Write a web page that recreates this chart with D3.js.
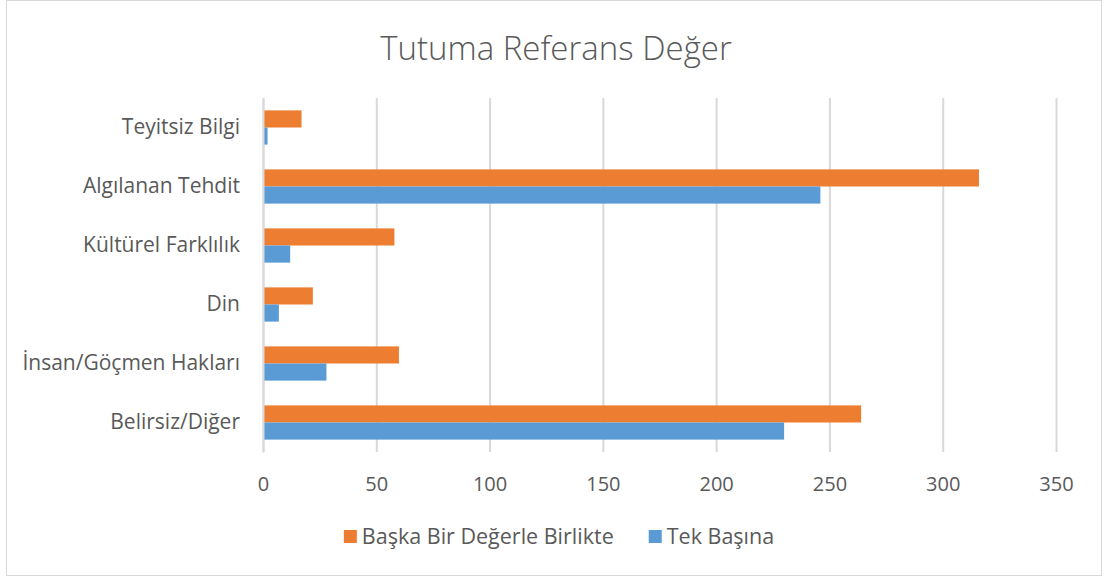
<!DOCTYPE html>
<html>
<head>
<meta charset="utf-8">
<script src="https://cdn.jsdelivr.net/npm/d3@7"></script>
<style>
  body { margin: 0; background: #fff; }
  text { font-family: "Open Sans", sans-serif; fill: #595959; }
</style>
</head>
<body>
<div id="container"></div>
<script>
  const data = [
    { name: 'Teyitsiz Bilgi', birlikte: 17, tek: 2 },
    { name: 'Algılanan Tehdit', birlikte: 316, tek: 246 },
    { name: 'Kültürel Farklılık', birlikte: 58, tek: 12 },
    { name: 'Din', birlikte: 22, tek: 7 },
    { name: 'İnsan/Göçmen Hakları', birlikte: 60, tek: 28 },
    { name: 'Belirsiz/Diğer', birlikte: 264, tek: 230 }
  ];
  const series = [
    { key: 'birlikte', label: 'Başka Bir Değerle Birlikte', colour: '#ED7D31' },
    { key: 'tek', label: 'Tek Başına', colour: '#5B9BD5' }
  ];

  const width = 1107, height = 579;
  const plot = { left: 263, right: 1056, top: 98, bottom: 452 };

  const svg = d3.select('#container').append('svg')
    .attr('width', width)
    .attr('height', height);

  // chart border
  svg.append('rect')
    .attr('x', 6.5).attr('y', 0.5)
    .attr('width', 1095).attr('height', 575)
    .attr('fill', '#fff')
    .attr('stroke', '#d9d9d9');

  svg.append('text')
    .attr('x', 556).attr('y', 60)
    .attr('text-anchor', 'middle')
    .style('font-size', '33px')
    .style('font-weight', 300)
    .text('Tutuma Referans Değer');

  const x = d3.scaleLinear().domain([0, 350]).range([plot.left, plot.right]);
  const y = d3.scaleBand().domain(data.map((d) => d.name))
    .range([plot.top, plot.bottom]).paddingInner(0.42).paddingOuter(0.21);
  const ySub = d3.scaleBand().domain(series.map((s) => s.key)).range([0, y.bandwidth()]);

  // gridlines + ticks
  const xAxis = svg.append('g')
    .attr('transform', `translate(0, ${plot.bottom})`)
    .call(d3.axisBottom(x).tickValues(d3.range(0, 351, 50)).tickSize(plot.bottom - plot.top).tickPadding(0));
  xAxis.select('.domain').remove();
  xAxis.selectAll('.tick line')
    .attr('y1', -(plot.bottom - plot.top))
    .attr('y2', 0)
    .attr('stroke', '#d9d9d9')
    .attr('stroke-width', 2);
  xAxis.selectAll('.tick text')
    .attr('y', 39)
    .attr('dy', 0)
    .style('font-size', '20px');

  const groups = svg.append('g').selectAll('g')
    .data(data).enter()
    .append('g')
    .attr('transform', (d) => `translate(0, ${y(d.name)})`);

  groups.selectAll('rect')
    .data((d) => series.map((s) => ({ key: s.key, value: d[s.key], colour: s.colour })))
    .enter()
    .append('rect')
    .attr('x', x(0))
    .attr('y', (d) => ySub(d.key))
    .attr('width', (d) => x(d.value) - x(0))
    .attr('height', ySub.bandwidth())
    .attr('fill', (d) => d.colour);

  const yAxis = svg.append('g')
    .attr('transform', `translate(${plot.left}, 0)`)
    .call(d3.axisLeft(y).tickSize(0).tickPadding(23));
  yAxis.select('.domain').attr('stroke', '#d9d9d9').attr('stroke-width', 2);
  yAxis.selectAll('.tick text').style('font-size', '21px');

  // legend
  const legend = svg.append('g').attr('class', 'legend');
  const l0 = legend.append('text')
    .attr('x', 0).attr('y', 544).style('font-size', '21.5px')
    .text(series[0].label);
  const l1 = legend.append('text')
    .attr('x', 0).attr('y', 544).style('font-size', '21.5px')
    .text(series[1].label);
  const w0 = l0.node().getComputedTextLength();
  const w1 = l1.node().getComputedTextLength();
  const gap = 35, box = 13, pad = 5;
  const total = box + pad + w0 + gap + box + pad + w1;
  let cx = 559 - total / 2;
  legend.append('rect').attr('x', cx).attr('y', 530).attr('width', box).attr('height', box).attr('fill', series[0].colour);
  l0.attr('x', cx + box + pad);
  cx += box + pad + w0 + gap;
  legend.append('rect').attr('x', cx).attr('y', 530).attr('width', box).attr('height', box).attr('fill', series[1].colour);
  l1.attr('x', cx + box + pad);
</script>
</body>
</html>
